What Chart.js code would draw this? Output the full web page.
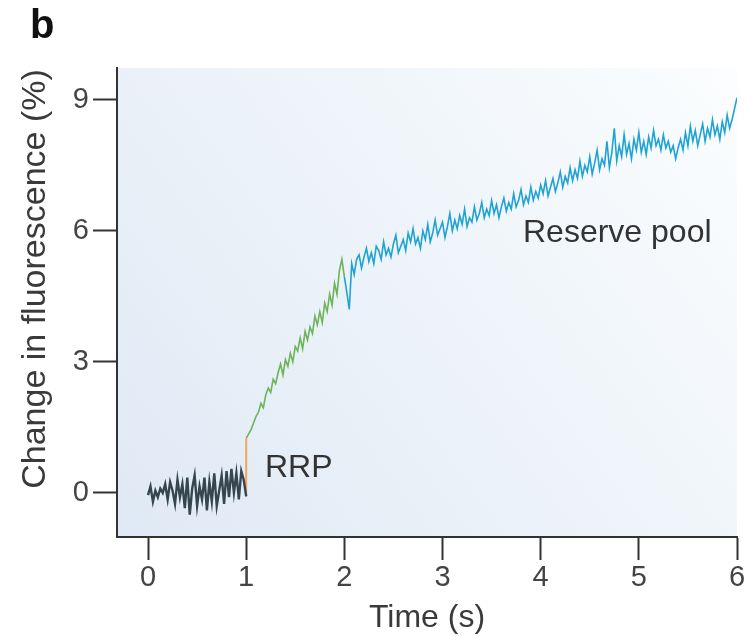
<!DOCTYPE html>
<html>
<head>
<meta charset="utf-8">
<script src="https://cdn.jsdelivr.net/npm/chart.js@4/dist/chart.umd.min.js"></script>
<style>
  html, body { margin: 0; padding: 0; background: #ffffff; }
  #wrap { width: 747px; height: 637px; position: relative; }
</style>
</head>
<body>
<div id="wrap"><canvas id="c" width="747" height="637"></canvas></div>
<script>
// ---- data ----
const panelLabel = 'b';
const xTitle = 'Time (s)';
const yTitle = 'Change in fluorescence (%)';
const xTicks = [0, 1, 2, 3, 4, 5, 6];
const yTicks = [0, 3, 6, 9];
const sampleStep = 0.025;          // s between samples

// baseline (0–1 s)
const baselineStart = 0;
const baselineValues = [-0.05, 0.15, -0.20, 0.05, -0.10, 0.10, 0.00, 0.20, -0.15, 0.25,
  0.05, -0.25, 0.30, -0.10, 0.20, -0.35, 0.35, -0.50, 0.10, 0.40,
  -0.30, 0.15, -0.15, 0.35, -0.40, 0.25, -0.20, 0.45, -0.30, 0.05,
  0.40, -0.25, 0.50, -0.10, 0.55, 0.00, 0.45, -0.15, 0.50, 0.30,
  -0.08];

// RRP step at 1 s
const rrpTime = 1;
const rrpValues = [-0.08, 1.25];

// fast rise (1–2 s)
const riseStart = 1;
const riseValues = [1.25, 1.35, 1.45, 1.60, 1.75, 1.85, 2.05, 1.95, 2.25, 2.40,
  2.30, 2.60, 2.50, 2.75, 2.95, 2.70, 3.05, 2.90, 3.20, 3.00,
  3.35, 3.25, 3.55, 3.30, 3.70, 3.50, 3.80, 3.65, 4.05, 3.85,
  4.15, 3.90, 4.35, 4.15, 4.55, 4.30, 4.80, 4.55, 5.10, 5.35,
  4.95];

// reserve pool (2–6 s)
const reserveStart = 2;
const reserveValues = [4.95, 4.60, 4.20, 5.25, 5.00, 5.35, 5.45, 5.15, 5.40, 5.60,
  5.30, 5.50, 5.25, 5.65, 5.55, 5.35, 5.75, 5.45, 5.60, 5.40,
  5.70, 5.90, 5.50, 5.65, 5.80, 5.55, 5.95, 5.75, 6.05, 5.70,
  5.85, 5.60, 6.00, 5.80, 6.15, 5.75, 5.95, 6.25, 5.90, 6.05,
  6.20, 5.85, 6.10, 6.40, 6.00, 6.25, 6.05, 6.35, 6.15, 6.50,
  6.10, 6.30, 6.20, 6.55, 6.25, 6.40, 6.65, 6.30, 6.50, 6.35,
  6.70, 6.40, 6.60, 6.30, 6.55, 6.75, 6.45, 6.65, 6.50, 6.85,
  6.55, 6.70, 6.95, 6.60, 6.80, 6.65, 7.00, 6.70, 6.90, 6.75,
  7.05, 6.85, 7.15, 6.80, 7.00, 7.20, 6.90, 7.10, 7.35, 7.00,
  7.25, 7.10, 7.45, 7.15, 7.40, 7.20, 7.60, 7.25, 7.50, 7.35,
  7.70, 7.30, 7.55, 7.85, 7.40, 7.65, 7.50, 8.05, 7.45, 7.80,
  8.35, 7.60, 7.95, 7.70, 8.20, 7.75, 8.00, 7.65, 8.10, 7.85,
  8.25, 7.80, 8.05, 7.75, 8.15, 7.90, 8.30, 7.95, 8.10, 7.85,
  8.20, 7.90, 8.05, 7.80, 7.95, 7.65, 7.90, 8.10, 7.85, 8.25,
  7.95, 8.40, 8.05, 8.30, 7.95, 8.20, 8.45, 8.05, 8.35, 8.15,
  8.55, 8.20, 8.40, 8.10, 8.50, 8.25, 8.65, 8.35, 8.55, 8.80,
  9.05];

const annotations = [
  { text: 'RRP', x: 265, y: 477 },
  { text: 'Reserve pool', x: 523, y: 242 }
];

// ---- build points ----
function series(start, values) {
  return values.map((v, i) => ({ x: +(start + i * sampleStep).toFixed(4), y: v }));
}

const FONT = '"Liberation Sans", Arial, sans-serif';

const bgPlugin = {
  id: 'bg',
  beforeDraw(chart) {
    const { ctx, chartArea: a } = chart;
    ctx.save();
    const g = ctx.createLinearGradient(a.left, a.bottom, a.right, a.top);
    g.addColorStop(0, '#dfe9f5');
    g.addColorStop(0.5, '#edf3f9');
    g.addColorStop(1, '#fbfdfe');
    ctx.fillStyle = g;
    ctx.fillRect(a.left, a.top, a.right - a.left, a.bottom - a.top);
    ctx.restore();
  },
  afterDraw(chart) {
    const { ctx } = chart;
    ctx.save();
    ctx.fillStyle = '#111111';
    ctx.font = 'bold 40px ' + FONT;
    ctx.textBaseline = 'alphabetic';
    ctx.fillText(panelLabel, 30, 38);
    ctx.fillStyle = '#333333';
    ctx.font = '32px ' + FONT;
    annotations.forEach(a => ctx.fillText(a.text, a.x, a.y));
    // y title
    ctx.translate(36, 279);
    ctx.rotate(-Math.PI / 2);
    ctx.font = '34px ' + FONT;
    ctx.textAlign = 'center';
    ctx.textBaseline = 'middle';
    ctx.fillStyle = '#3a3a3a';
    ctx.fillText(yTitle, 0, 0);
    ctx.restore();
  }
};

const lineDs = (label, data, color, width) => ({
  label, data, borderColor: color, backgroundColor: color,
  borderWidth: width, showLine: true, pointRadius: 0, tension: 0, fill: false
});

new Chart(document.getElementById('c'), {
  type: 'scatter',
  data: {
    datasets: [
      lineDs('Baseline', series(baselineStart, baselineValues), '#35464f', 2.4),
      lineDs('RRP', rrpValues.map(v => ({ x: rrpTime, y: v })), '#f2a35e', 2),
      lineDs('Rise', series(riseStart, riseValues), '#6db35a', 1.6),
      lineDs('Reserve pool', series(reserveStart, reserveValues), '#20a3d3', 1.6)
    ]
  },
  options: {
    responsive: false,
    animation: false,
    layout: { padding: { top: 68, right: 10, left: 0, bottom: 0 } },
    plugins: { legend: { display: false }, tooltip: { enabled: false } },
    scales: {
      x: {
        type: 'linear', min: -0.316, max: 6,
        afterFit(s) { s.height = 100; },
        afterBuildTicks(s) { s.ticks = xTicks.map(v => ({ value: v })); },
        grid: { drawOnChartArea: false, drawTicks: true, tickLength: 23, tickColor: '#333', tickWidth: 2 },
        border: { display: true, color: '#333', width: 2 },
        ticks: { padding: 1, color: '#444', font: { size: 29, family: FONT }, maxRotation: 0 },
        title: { display: true, text: xTitle, color: '#3a3a3a', padding: { top: 0, bottom: 0 },
                 font: { size: 32, family: FONT } }
      },
      y: {
        type: 'linear', min: -1.01, max: 9.73,
        afterFit(s) { s.width = 117; },
        afterBuildTicks(s) { s.ticks = yTicks.map(v => ({ value: v })); },
        grid: { drawOnChartArea: false, drawTicks: true, tickLength: 24, tickColor: '#333', tickWidth: 2 },
        border: { display: true, color: '#333', width: 2 },
        ticks: { padding: 4, color: '#444', font: { size: 29, family: FONT } }
      }
    }
  },
  plugins: [bgPlugin]
});
</script>
</body>
</html>
